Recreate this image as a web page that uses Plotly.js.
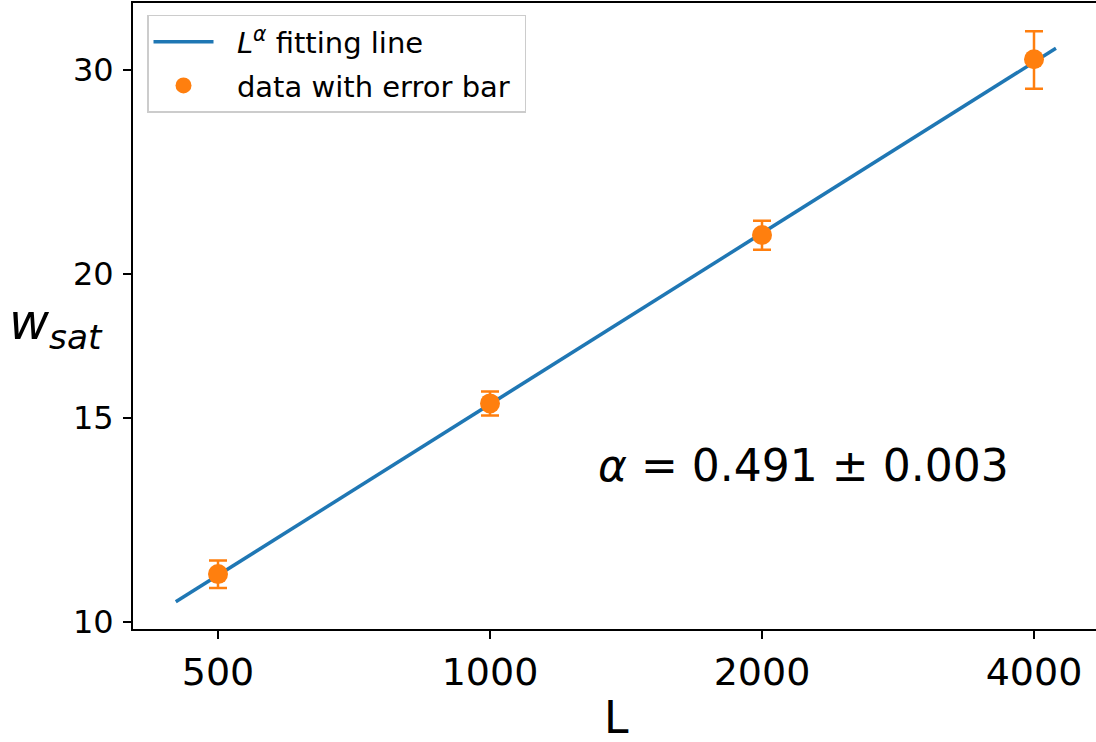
<!DOCTYPE html>
<html>
<head>
<meta charset="utf-8">
<script src="https://cdn.plot.ly/plotly-3.0.1.min.js"></script>
<style>
html, body { margin: 0; padding: 0; overflow: hidden; background: #fff; }
#chart { width: 1100px; height: 742px; }
</style>
</head>
<body>
<div id="chart"></div>
<script>
// Data
const L_values = [500, 1000, 2000, 4000];
const w_sat = [11.0, 15.45, 21.6, 30.65];
const w_err = [0.3, 0.37, 0.62, 1.75];
const fit_L = [449, 4230];
const fit_w = [10.41, 31.32];
const xTicks = [500, 1000, 2000, 4000];
const yTicks = [10, 15, 20, 30];
const alphaText = '<i>α</i> = 0.491 ± 0.003';
const NB = '\u00A0\u00A0';

const FONT = 'DejaVu Sans, sans-serif';

const traces = [
  {
    x: fit_L, y: fit_w, mode: 'lines', type: 'scatter',
    name: NB + '<i>L</i><sup><i>α</i></sup> fitting line',
    legendgroup: 'fit',
    line: {color: '#1f77b4', width: 3.5}
  },
  {
    x: L_values, y: w_sat, mode: 'markers', type: 'scatter',
    name: NB + 'data with error bar\u00A0',
    legendgroup: 'data',
    marker: {color: '#ff7f0e', size: 20},
    error_y: {type: 'data', array: w_err, visible: true, color: '#ff7f0e', thickness: 2.5, width: 9}
  }
];

const layout = {
  width: 1100, height: 742,
  margin: {l: 133, r: 1, t: 3, b: 113},
  paper_bgcolor: '#fff', plot_bgcolor: '#fff',
  font: {family: FONT, color: '#000'},
  showlegend: true,
  legend: {
    x: 0.0145, y: 0.981, xanchor: 'left', yanchor: 'top',
    bgcolor: '#fff', bordercolor: '#cccccc', borderwidth: 1.5,
    font: {family: FONT, size: 29, color: '#000'},
    itemwidth: 60, tracegroupgap: 3
  },
  xaxis: {
    type: 'log', range: [2.6049, 3.6740],
    tickvals: xTicks, ticktext: xTicks.map(String),
    ticks: 'outside', ticklen: 8, tickwidth: 1.8, tickcolor: '#000',
    tickfont: {family: FONT, size: 38, color: '#000'},
    showline: true, linecolor: '#000', linewidth: 2, mirror: true,
    showgrid: false, zeroline: false
  },
  yaxis: {
    type: 'log', range: [0.99395, 1.5350],
    tickvals: yTicks, ticktext: yTicks.map(String),
    ticks: 'outside', ticklen: 8, tickwidth: 1.8, tickcolor: '#000',
    tickfont: {family: FONT, size: 32, color: '#000'},
    ticklabelstandoff: 3,
    showline: true, linecolor: '#000', linewidth: 2, mirror: true,
    showgrid: false, zeroline: false
  },
  annotations: [
    {
      xref: 'paper', yref: 'paper', x: 0.6936, y: 0.2604,
      xanchor: 'center', yanchor: 'middle', showarrow: false,
      text: alphaText, font: {family: FONT, size: 44, color: '#000'}
    },
    {
      xref: 'paper', yref: 'paper', x: -0.0797, y: 0.4856,
      xanchor: 'center', yanchor: 'middle', showarrow: false,
      text: '<i>w</i><sub><i>sat</i></sub>', font: {family: FONT, size: 49, color: '#000'}
    },
    {
      xref: 'paper', yref: 'paper', x: 0.501, y: -0.142,
      xanchor: 'center', yanchor: 'middle', showarrow: false,
      text: 'L', font: {family: FONT, size: 44, color: '#000'}
    }
  ]
};

Plotly.newPlot('chart', traces, layout, {displayModeBar: false, staticPlot: true});
</script>
</body>
</html>
